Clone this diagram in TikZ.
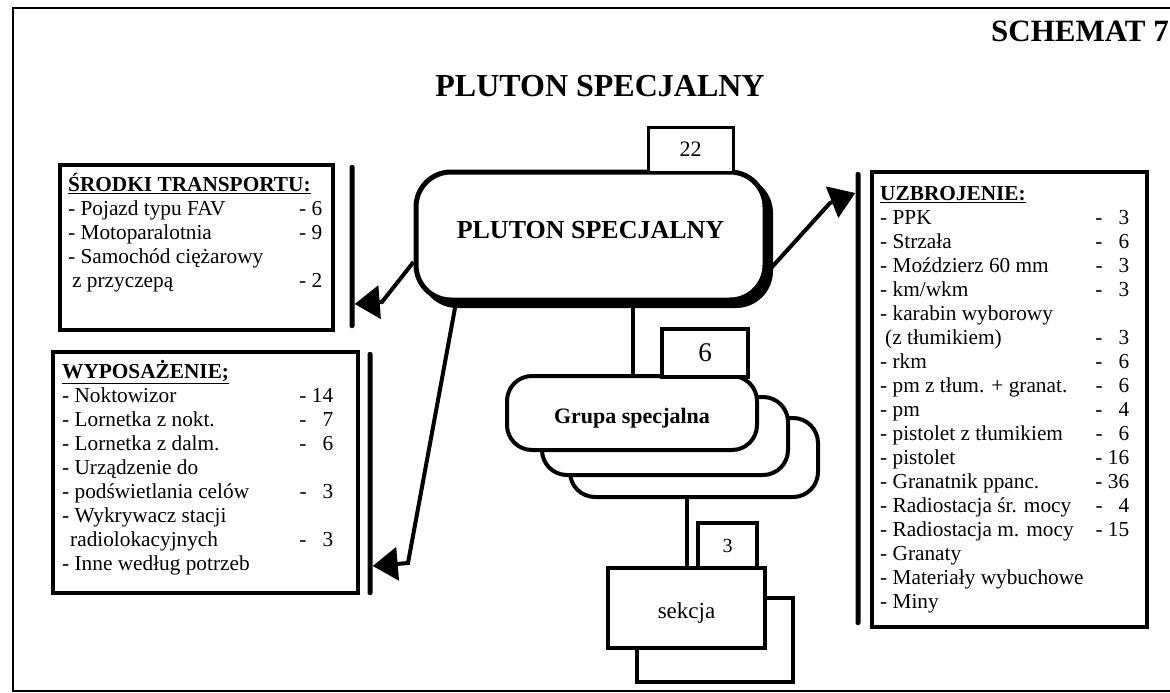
\documentclass[tikz,border=0pt]{standalone}
\usepackage{fontspec}
\setmainfont{Liberation Serif}
\usetikzlibrary{arrows.meta}

\newcommand{\listfont}{\fontsize{21.3}{24}\selectfont}

\begin{document}
\begin{tikzpicture}[x=1pt, y=-1pt,
  box/.style={draw=black, line width=4.5pt, fill=white, inner sep=0pt},
  roundbox/.style={box, line width=4pt, rounded corners=25pt},
  numbox/.style={draw=black, line width=3.5pt, fill=white, inner sep=0pt},
  bar/.style={fill=black, inner sep=0pt, minimum width=5pt, rounded corners=2pt},
  link/.style={line width=4pt},
  arrowline/.style={line width=4pt, -{Triangle[width=33pt,length=25pt]}},
  listtext/.style={anchor=base west, inner sep=0pt, font=\listfont}]

  \useasboundingbox (0,0) rectangle (1170,693);
  \fill[white] (0,0) rectangle (1170,693);
  \draw[line width=2pt] (1180,8) -- (13,8) -- (13,691) -- (1180,691);

  \node[anchor=base west, inner sep=0pt, font=\fontsize{31}{36}\selectfont\bfseries] (schemat) at (991,42) {SCHEMAT 7};
  \node[anchor=base, inner sep=0pt, font=\fontsize{32}{38}\selectfont\bfseries] (title) at (600,96) {PLUTON SPECJALNY};

  \node[roundbox, rounded corners=35pt, fill=black, minimum width=349pt, minimum height=128pt] (mainshadow) at (596.5,242) {};
  \node[roundbox, rounded corners=35pt, line width=5pt, minimum width=349pt, minimum height=128pt,
    font=\fontsize{26}{30}\selectfont\bfseries, text depth=13pt] (main) at (590.5,236) {PLUTON SPECJALNY};
  \node[numbox, line width=3pt, minimum width=85pt, minimum height=45pt, font=\fontsize{22}{26}\selectfont] (n22) at (690.5,149.5) {22};

  \node[roundbox, minimum width=248pt, minimum height=79pt] (grupaC) at (694,457.5) {};
  \node[roundbox, minimum width=246pt, minimum height=78pt] (grupaB) at (665,436) {};
  \node[roundbox, minimum width=250pt, minimum height=74pt, font=\fontsize{22}{26}\selectfont\bfseries,
    text height=20pt, text depth=0pt] (grupa) at (632,413) {Grupa specjalna};
  \node[numbox, minimum width=86pt, minimum height=48pt, font=\fontsize{27}{30}\selectfont] (n6) at (705,353) {6};
  \draw[link] (main.south -| 633,0) -- (grupa.north -| 633,0);

  \node[box, line width=4pt, minimum width=156pt, minimum height=84pt] (sekcjaB) at (715,640) {};
  \node[box, line width=4pt, minimum width=157pt, minimum height=80pt, font=\fontsize{23}{27}\selectfont,
    text height=20pt, text depth=0pt] (sekcja) at (686.5,608) {sekcja};
  \node[numbox, minimum width=59pt, minimum height=45pt, font=\fontsize{20}{24}\selectfont] (n3) at (727.5,545.5) {3};
  \draw[link] (grupaC.south -| sekcja.north) -- (sekcja.north);

  \node[box, minimum width=273pt, minimum height=165pt] (transport) at (196.5,247.5) {};
  \node[listtext] (transporttext) at (68,191) {\begin{tabular*}{254pt}[t]{@{}l@{\extracolsep{\fill}}r@{}}
    \multicolumn{2}{@{}l@{}}{\textbf{\underline{ŚRODKI TRANSPORTU:}}}\\
    - Pojazd typu FAV & - 6\\
    - Motoparalotnia & - 9\\
    - Samochód ciężarowy & \\
    \hspace{4pt}z przyczepą & - 2
  \end{tabular*}};

  \node[box, minimum width=305pt, minimum height=241pt] (wyposazenie) at (205.5,472.5) {};
  \node[listtext] (wyposazenietext) at (62,378) {\begin{tabular*}{271pt}[t]{@{}l@{\extracolsep{\fill}}r@{}}
    \multicolumn{2}{@{}l@{}}{\textbf{\underline{WYPOSAŻENIE;}}}\\
    - Noktowizor & - 14\\
    - Lornetka z nokt. & - \phantom{1}7\\
    - Lornetka z dalm. & - \phantom{1}6\\
    - Urządzenie do & \\
    - podświetlania celów & - \phantom{1}3\\
    - Wykrywacz stacji & \\
    \hspace{8pt}radiolokacyjnych & - \phantom{1}3\\
    - Inne według potrzeb &
  \end{tabular*}};

  \node[box, minimum width=275pt, minimum height=455pt] (uzbrojenie) at (1009.5,399.5) {};
  \node[listtext] (uzbrojenietext) at (880,200) {\begin{tabular*}{249pt}[t]{@{}l@{\extracolsep{\fill}}r@{}}
    \multicolumn{2}{@{}l@{}}{\textbf{\underline{UZBROJENIE:}}}\\
    - PPK & - \phantom{1}3\\
    - Strzała & - \phantom{1}6\\
    - Moździerz 60 mm & - \phantom{1}3\\
    - km/wkm & - \phantom{1}3\\
    - karabin wyborowy & \\
    \hspace{5pt}(z tłumikiem) & - \phantom{1}3\\
    - rkm & - \phantom{1}6\\
    - pm z tłum. + granat. & - \phantom{1}6\\
    - pm & - \phantom{1}4\\
    - pistolet z tłumikiem & - \phantom{1}6\\
    - pistolet & - 16\\
    - Granatnik ppanc. & - 36\\
    - Radiostacja śr. mocy & - \phantom{1}4\\
    - Radiostacja m. mocy & - 15\\
    - Granaty & \\
    - Materiały wybuchowe & \\
    - Miny &
  \end{tabular*}};

  \node[bar, minimum height=163pt] (barT) at (352,246.5) {};
  \node[bar, minimum height=243pt] (barW) at (370,473.5) {};
  \node[bar, minimum height=453pt] (barU) at (858,398.5) {};

  \draw[arrowline] (main.west |- 0,262) -- (382,302) -- (barT.east |- 0,304);
  \draw[arrowline] (main.south -| 456,0) -- (408,563) -- (barW.east |- 0,566);
  \draw[arrowline] (main.east |- 0,272) -- (830,203) -- (barU.west |- 0,193);
\end{tikzpicture}
\end{document}
